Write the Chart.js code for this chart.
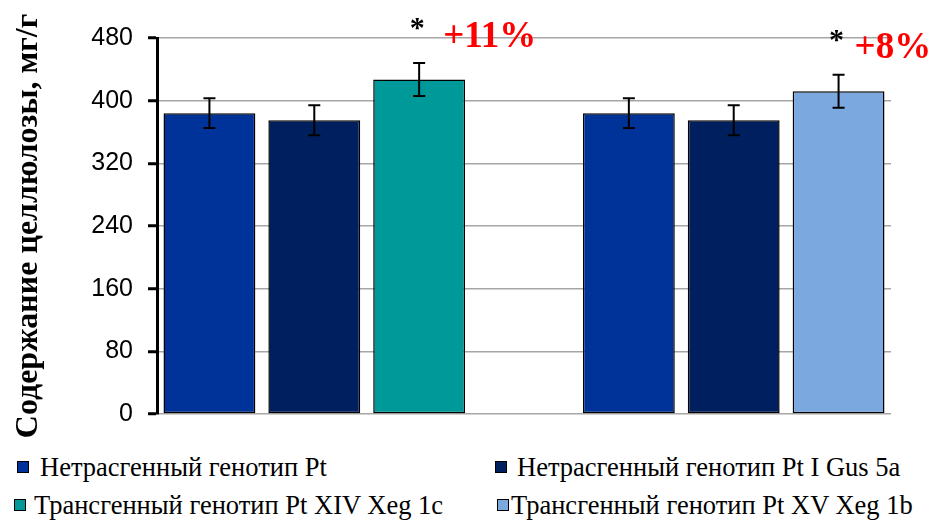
<!DOCTYPE html>
<html>
<head>
<meta charset="utf-8">
<script src="https://cdn.jsdelivr.net/npm/chart.js@4.4.0/dist/chart.umd.min.js"></script>
<style>
  html, body { margin: 0; padding: 0; background: #fff; }
  #wrap { position: relative; width: 939px; height: 521px; overflow: hidden; }
  #chart { position: absolute; left: 0; top: 0; }
  .leg { position: absolute; font-family: "Liberation Serif", "Times New Roman", serif; font-size: 26.5px; color: #000; white-space: nowrap; line-height: 1; }
  .sw { position: absolute; width: 10px; height: 10px; border: 1px solid #000; }
</style>
</head>
<body>
<div id="wrap">
  <canvas id="chart" width="939" height="440"></canvas>
  <div id="legend"></div>
</div>
<script>
// Cellulose content per genotype; the middle slot is left empty to split the two groups
const categories = ['Pt', 'Pt I Gus 5a', 'Pt XIV Xeg 1c', '', 'Pt', 'Pt I Gus 5a', 'Pt XV Xeg 1b'];
const values = [384, 375, 427, null, 384, 375, 412];
const errors = [19, 19, 21, null, 19, 19, 21];
const stars = ['', '', '*', '', '', '', '*'];
const gains = ['', '', '+11%', '', '', '', '+8%'];
const yTicks = [0, 80, 160, 240, 320, 400, 480];
const legendLabels = [
  'Нетрасгенный генотип Pt',
  'Нетрасгенный генотип Pt I Gus 5a',
  'Трансгенный генотип Pt XIV Xeg 1c',
  'Трансгенный генотип Pt XV Xeg 1b'
];

const barColors = ['#003399', '#001F5F', '#009999', '#ffffff', '#003399', '#001F5F', '#7BA8DF'];
const legendColors = ['#003399', '#001F5F', '#009999', '#7BA8DF'];

// Error bars, significance stars and percentage gains drawn over the bars
const overlayPlugin = {
  id: 'overlay',
  afterDatasetsDraw(chart) {
    const ctx = chart.ctx;
    const meta = chart.getDatasetMeta(0);
    const y = chart.scales.y;
    ctx.save();
    values.forEach((v, i) => {
      if (v == null) return;
      const bar = meta.data[i];
      const x = bar.x;
      const top = y.getPixelForValue(v + errors[i]);
      const bot = y.getPixelForValue(v - errors[i]);
      ctx.strokeStyle = '#000';
      ctx.lineWidth = 2;
      ctx.beginPath();
      ctx.moveTo(x, top); ctx.lineTo(x, bot);
      ctx.moveTo(x - 6, top); ctx.lineTo(x + 6, top);
      ctx.moveTo(x - 6, bot); ctx.lineTo(x + 6, bot);
      ctx.stroke();
      if (stars[i]) {
        ctx.fillStyle = '#000';
        ctx.font = 'bold 30px "Liberation Serif", serif';
        ctx.textAlign = 'center';
        ctx.textBaseline = 'middle';
        ctx.fillText(stars[i], x - 2, top - 34);
      }
      if (gains[i]) {
        ctx.fillStyle = '#FF0000';
        ctx.font = 'bold 37px "Liberation Serif", serif';
        ctx.textAlign = 'left';
        ctx.textBaseline = 'middle';
        const dx = i === 2 ? 24 : 16;
        ctx.fillText(gains[i], x + dx, top - 26);
      }
    });
    ctx.restore();
  }
};

new Chart(document.getElementById('chart'), {
  type: 'bar',
  data: {
    labels: categories,
    datasets: [{
      data: values,
      backgroundColor: barColors,
      borderColor: '#000',
      borderWidth: 1.5,
      borderSkipped: false,
      categoryPercentage: 1,
      barPercentage: 0.876
    }]
  },
  options: {
    responsive: false,
    animation: false,
    layout: { padding: { top: 38, bottom: 26, left: 0, right: 48 } },
    plugins: { legend: { display: false }, tooltip: { enabled: false } },
    scales: {
      x: { display: false },
      y: {
        min: 0, max: 480,
        afterFit(scale) {
          scale.width = 157;
          scale.paddingTop = 0;
          scale.paddingBottom = 0;
        },
        afterBuildTicks(scale) { scale.ticks = yTicks.map(v => ({ value: v })); },
        grid: { color: '#A6A6A6', lineWidth: 1.5, tickColor: '#000', tickLength: 9, tickWidth: 3 },
        border: { color: '#000', width: 3 },
        ticks: { color: '#000', padding: 15, font: { family: '"Liberation Sans", Arial, sans-serif', size: 25 } },
        title: {
          display: true,
          text: 'Содержание целлюлозы, мг/г',
          color: '#000',
          padding: { top: 10, bottom: 0 },
          font: { family: '"Liberation Serif", "Times New Roman", serif', size: 32, weight: 'bold' }
        }
      }
    }
  },
  plugins: [overlayPlugin]
});

// Two-column legend under the plot
const legPos = [
  { sx: 17, sy: 461, tx: 40, ty: 454 },
  { sx: 495, sy: 461, tx: 517, ty: 454 },
  { sx: 14, sy: 499, tx: 34, ty: 492 },
  { sx: 497, sy: 499, tx: 511, ty: 492 }
];
const legend = document.getElementById('legend');
legendLabels.forEach((t, i) => {
  const p = legPos[i];
  const sw = document.createElement('div');
  sw.className = 'sw';
  sw.style.left = p.sx + 'px'; sw.style.top = p.sy + 'px';
  sw.style.background = legendColors[i];
  legend.appendChild(sw);
  const tx = document.createElement('div');
  tx.className = 'leg';
  tx.style.left = p.tx + 'px'; tx.style.top = p.ty + 'px';
  tx.textContent = t;
  legend.appendChild(tx);
});
</script>
</body>
</html>
